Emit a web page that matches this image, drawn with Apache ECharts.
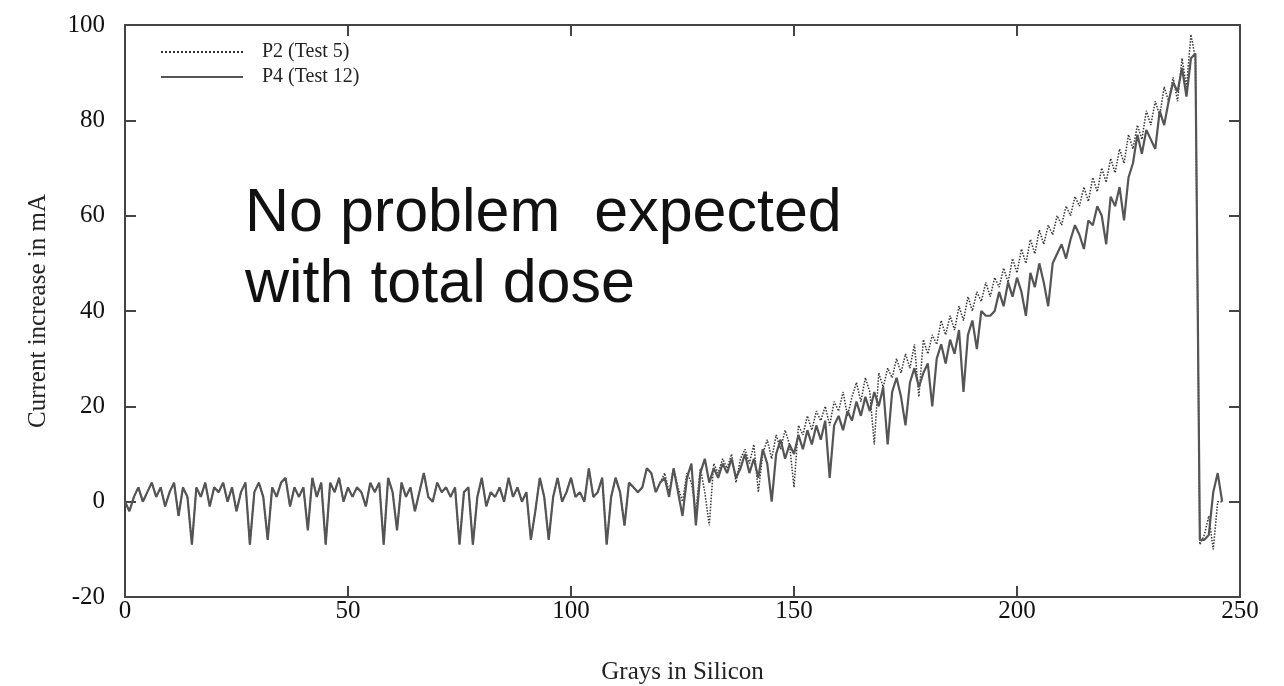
<!DOCTYPE html>
<html>
<head>
<meta charset="utf-8">
<title>Current increase vs dose</title>
<script src="https://cdn.jsdelivr.net/npm/echarts@6/dist/echarts.min.js"></script>
<style>
  html, body { margin: 0; padding: 0; background: #fff; }
  #chart { width: 1284px; height: 686px; }
</style>
</head>
<body>
<div id="chart"></div>
<script>
// both tests sit on top of each other until ~118 Gy
var baseline = [
  0, -2, 1, 3, 0, 2, 4, 1, 3, -1, 2, 4, -3, 3, 1, -9, 3, 1, 4, -1,
  3, 2, 4, 0, 3, -2, 2, 4, -9, 2, 4, 1, -8, 3, 1, 4, 5, -1, 3, 1,
  3, -6, 5, 1, 4, -9, 4, 2, 5, 0, 3, 1, 3, 2, -1, 4, 2, 4, -9, 5,
  2, -6, 4, 1, 3, -2, 2, 6, 1, 0, 4, 2, 3, 1, 3, -9, 2, 3, -9, 1,
  5, -1, 2, 1, 3, 0, 5, 1, 3, 0, 2, -8, -2, 5, 1, -8, 1, 5, 0, 2,
  5, 1, 2, 0, 7, 1, 2, 5, -9, 1, 5, 2, -5, 4, 3, 2, 3, 7
];

// P2 (Test 5), 118 .. 246 Gy
var p2Tail = [
  6, 2, 4, 6, 2, 7, 3, 0, 6, 4, -2, 7, 2, -5, 8, 6, 9, 7, 10, 4,
  9, 11, 8, 12, 2, 10, 13, 9, 14, 11, 15, 12, 3, 16, 14, 18, 15, 19, 17, 20,
  16, 21, 19, 23, 18, 22, 25, 21, 26, 23, 12, 27, 24, 28, 26, 30, 27, 31, 28, 33,
  22, 34, 31, 35, 33, 38, 35, 39, 36, 41, 38, 43, 40, 44, 42, 46, 43, 47, 45, 49,
  46, 51, 48, 53, 50, 55, 52, 57, 54, 58, 56, 60, 58, 62, 60, 64, 62, 66, 63, 68,
  65, 70, 67, 72, 69, 74, 71, 77, 74, 79, 76, 82, 79, 84, 81, 87, 84, 89, 84, 93,
  87, 98, 93, -9, -7, -3, -10, 0, 0
];

// P4 (Test 12), 118 .. 246 Gy
var p4Tail = [
  6, 2, 4, 5, 1, 7, 2, -3, 5, 8, -5, 6, 9, 4, 7, 5, 8, 6, 9, 5,
  7, 10, 6, 9, 5, 11, 8, 0, 10, 13, 9, 12, 10, 14, 11, 15, 12, 16, 13, 17,
  5, 16, 18, 15, 19, 17, 21, 18, 22, 19, 23, 20, 24, 12, 23, 26, 22, 16, 25, 28,
  24, 27, 29, 20, 30, 33, 29, 34, 31, 36, 23, 35, 38, 32, 40, 39, 39, 40, 44, 41,
  46, 43, 47, 44, 39, 48, 45, 50, 46, 41, 50, 52, 54, 51, 55, 58, 56, 53, 59, 58,
  62, 60, 54, 64, 62, 66, 59, 68, 71, 77, 73, 78, 76, 74, 82, 79, 84, 88, 86, 91,
  85, 93, 94, -8, -8, -7, 2, 6, 0
];

var xTicks = [0, 50, 100, 150, 200, 250];
var yTicks = [-20, 0, 20, 40, 60, 80, 100];

function toPairs(vals) {
  return vals.map(function (v, i) { return [i, v]; });
}

var p2 = toPairs(baseline.concat(p2Tail));
var p4 = toPairs(baseline.concat(p4Tail));

var serif = "'Liberation Serif', 'DejaVu Serif', serif";
var frame = { show: true, onZero: false, lineStyle: { color: "#444", width: 2 } };
var inTick = { show: true, inside: true, length: 11, lineStyle: { color: "#444", width: 2 } };

var myChart = echarts.init(document.getElementById("chart"));
myChart.setOption({
  animation: false,
  backgroundColor: "#fff",
  grid: { left: 125, right: 44, top: 25, bottom: 89, outerBoundsMode: "none", containLabel: false },
  legend: {
    left: 155,
    top: 37,
    orient: "vertical",
    itemWidth: 82,
    itemHeight: 14,
    itemGap: 5,
    itemStyle: { opacity: 0 },
    textStyle: { fontFamily: serif, fontSize: 20, color: "#222", padding: [0, 0, 0, 14] },
    data: ["P2 (Test 5)", "P4 (Test 12)"]
  },
  xAxis: [
    {
      type: "value",
      min: xTicks[0],
      max: xTicks[xTicks.length - 1],
      interval: 50,
      name: "Grays in Silicon",
      nameLocation: "middle",
      nameGap: 63,
      nameTextStyle: { fontFamily: serif, fontSize: 25, color: "#222" },
      axisLine: frame,
      axisTick: inTick,
      axisLabel: { fontFamily: serif, fontSize: 25, color: "#111", margin: 2 },
      splitLine: { show: false }
    },
    {
      type: "value",
      position: "top",
      min: xTicks[0],
      max: xTicks[xTicks.length - 1],
      interval: 50,
      axisLine: frame,
      axisTick: inTick,
      axisLabel: { show: false },
      splitLine: { show: false }
    }
  ],
  yAxis: [
    {
      type: "value",
      min: yTicks[0],
      max: yTicks[yTicks.length - 1],
      interval: 20,
      name: "Current increase in mA",
      nameLocation: "middle",
      nameGap: 74,
      nameTextStyle: { fontFamily: serif, fontSize: 25, color: "#222" },
      axisLine: frame,
      axisTick: inTick,
      axisLabel: { fontFamily: serif, fontSize: 25, color: "#111", margin: 20 },
      splitLine: { show: false }
    },
    {
      type: "value",
      position: "right",
      min: yTicks[0],
      max: yTicks[yTicks.length - 1],
      interval: 20,
      axisLine: frame,
      axisTick: inTick,
      axisLabel: { show: false },
      splitLine: { show: false }
    }
  ],
  graphic: [
    {
      type: "text",
      left: 245,
      top: 179,
      style: {
        text: "No problem  expected\nwith total dose",
        fontFamily: "'Liberation Sans', Arial, sans-serif",
        fontSize: 61,
        lineHeight: 71,
        fill: "#111"
      }
    }
  ],
  series: [
    {
      name: "P2 (Test 5)",
      type: "line",
      xAxisIndex: 0,
      yAxisIndex: 0,
      symbol: "none",
      data: p2,
      lineStyle: { color: "#333", width: 1.5, type: "dotted" },
      itemStyle: { color: "#333" }
    },
    {
      name: "P4 (Test 12)",
      type: "line",
      xAxisIndex: 0,
      yAxisIndex: 0,
      symbol: "none",
      data: p4,
      lineStyle: { color: "#555", width: 2.2 },
      itemStyle: { color: "#555" }
    }
  ]
});
window.onresize = function () {
  myChart.resize();
};
</script>
</body>
</html>
